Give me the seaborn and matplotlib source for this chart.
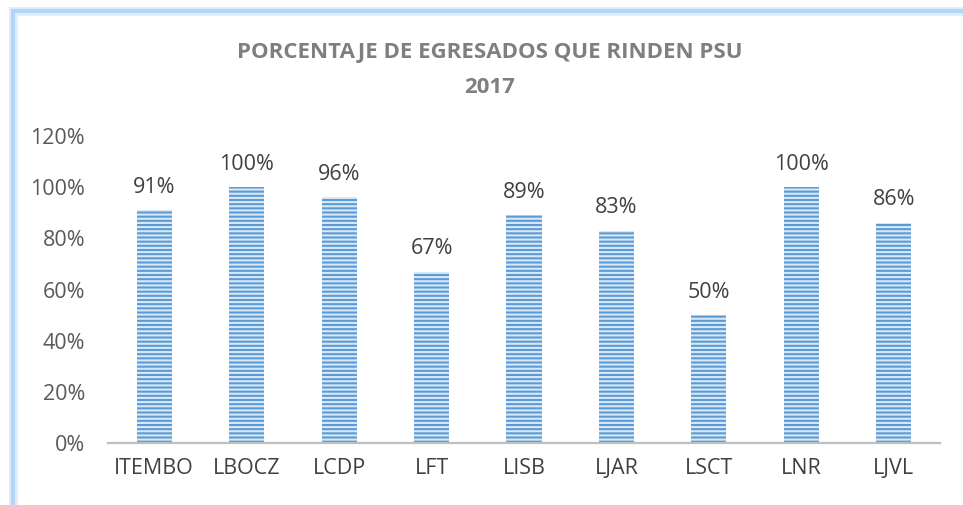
import matplotlib
matplotlib.use("Agg")
import matplotlib.pyplot as plt
from matplotlib.patches import Rectangle
from matplotlib.ticker import PercentFormatter
import seaborn as sns

# data
colegios = ['ITEMBO', 'LBOCZ', 'LCDP', 'LFT', 'LISB', 'LJAR', 'LSCT', 'LNR', 'LJVL']
porcentaje = [0.91, 1.00, 0.96, 0.67, 0.89, 0.83, 0.50, 1.00, 0.86]
y_ticks = [0, 0.2, 0.4, 0.6, 0.8, 1.0, 1.2]
titulo = 'PORCENTAJE DE EGRESADOS QUE RINDEN PSU\n2017'

sns.set_theme(style='white')
plt.rcParams['font.family'] = ['Open Sans', 'DejaVu Sans']
plt.rcParams['hatch.linewidth'] = 1.5

fig = plt.figure(figsize=(9.63, 5.05), dpi=100, facecolor='white')
ax = fig.add_axes([108 / 963, 1 - 443 / 505, 832 / 963, 307 / 505])

sns.barplot(x=colegios, y=porcentaje, ax=ax,
            color='#5b9bd5', saturation=1, width=0.38,
            hatch='----', edgecolor='#d9e8f7', linewidth=0)

# labels above the bars
ax.bar_label(ax.containers[0], labels=[f'{v:.0%}' for v in porcentaje],
             padding=9, fontsize=15.5, color='#404040')

ax.set_ylim(0, 1.2)
ax.set_yticks(y_ticks)
ax.yaxis.set_major_formatter(PercentFormatter(1.0, decimals=0))
ax.tick_params(axis='y', length=0, pad=16.5, labelsize=15.5, labelcolor='#595959')
ax.tick_params(axis='x', length=0, pad=11, labelsize=15.5, labelcolor='#404040')
ax.set_xlabel('')
ax.set_ylabel('')
ax.grid(False)

for side in ['top', 'right', 'left']:
    ax.spines[side].set_visible(False)
ax.spines['bottom'].set_color('#bfbfbf')
ax.spines['bottom'].set_linewidth(1.6)

fig.text(490 / 963, 1 - 70 / 505, titulo, ha='center', va='center',
         fontsize=16, fontweight='bold', color='#7f7f7f', linespacing=1.9)

# light blue frame on left and top (chart border, cut off at right/bottom)
for lw, col in [(6.5, '#e1effc'), (3.0, '#b3d6f7')]:
    fig.add_artist(Rectangle((12.5 / 963, -0.2), 2.0, 0.2 + (505 - 10.5) / 505,
                             transform=fig.transFigure, fill=False,
                             edgecolor=col, linewidth=lw))

fig.savefig('out.png', dpi=100, facecolor='white')
